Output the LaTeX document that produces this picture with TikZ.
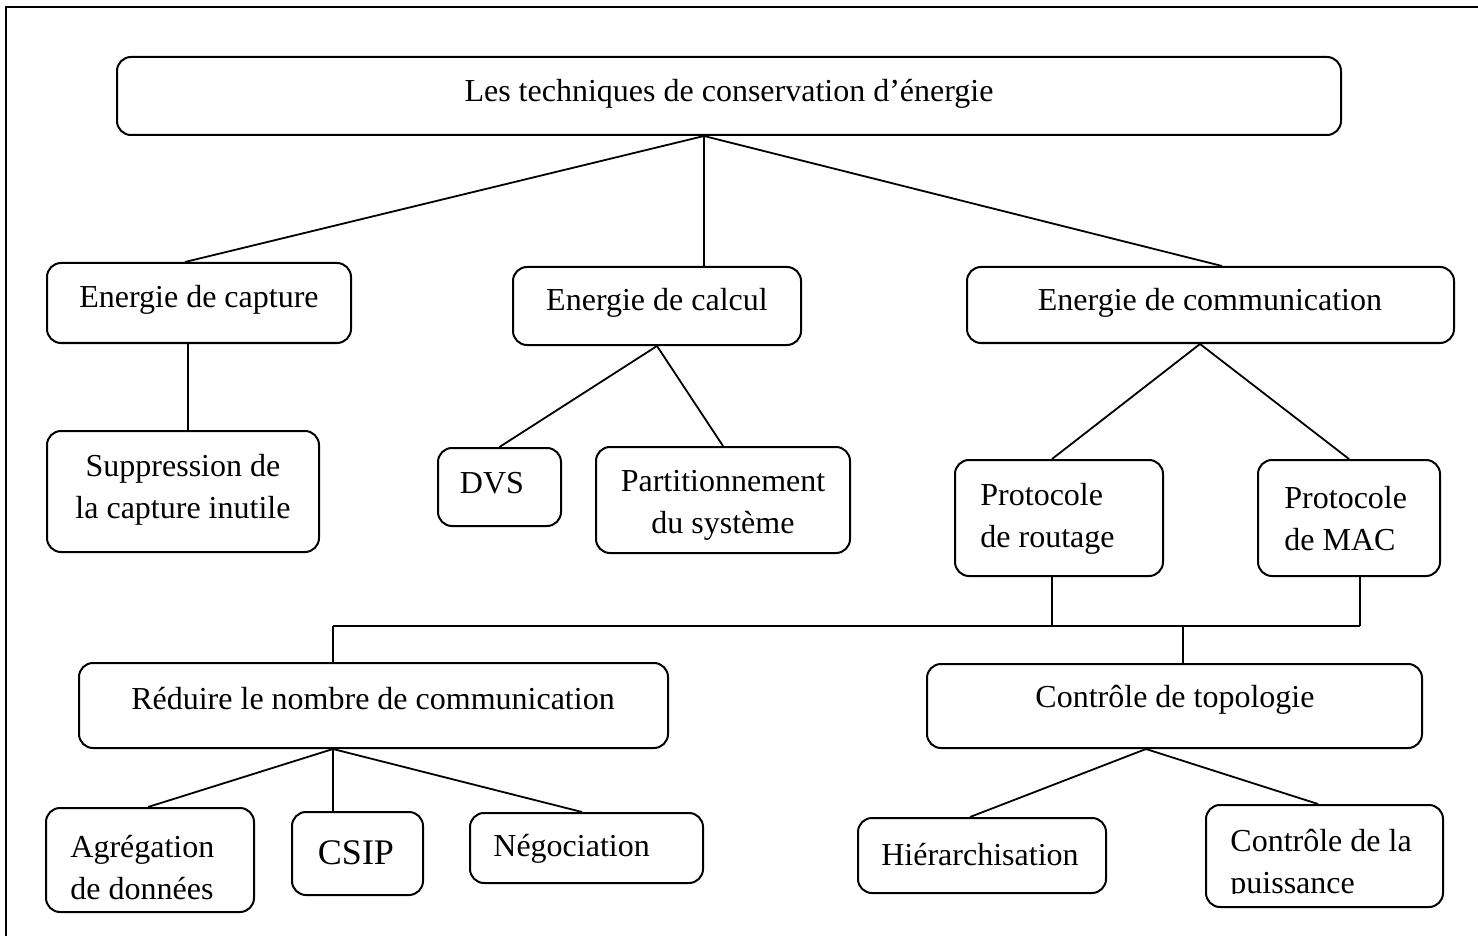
\documentclass[tikz,border=0pt]{standalone}
\usepackage{fontspec}
\setmainfont{Liberation Serif}
\usepackage{tikz}

\begin{document}
\begin{tikzpicture}[x=0.5pt, y=-0.5pt,
    boite/.style={draw, line width=1pt, rounded corners=7pt, inner sep=0pt},
    txt/.style={font=\fontsize{16}{21}\selectfont, inner sep=0pt, yshift=-1.5pt},
    txtg/.style={txt, align=left, anchor=west},
    lien/.style={line width=0.9pt}]
  \useasboundingbox (0,0) rectangle (1478,936);
  % === cadre ===
  \draw[line width=1.2pt] (6,936) -- (6,7) -- (1478,7);
  % === Niveau 1 ===
  \node[boite, minimum width=612pt, minimum height=39pt] (tech) at (729,96) {};
  \node[txt] (tech-t) at (729,91) {Les techniques de conservation d’énergie};
  % === Niveau 2 ===
  \node[boite, minimum width=152pt, minimum height=40pt] (capture) at (199,303) {};
  \node[txt] (capture-t) at (199,297) {Energie de capture};
  \node[boite, minimum width=144pt, minimum height=39pt] (calcul) at (657,306) {};
  \node[txt] (calcul-t) at (657,300) {Energie de calcul};
  \node[boite, minimum width=243.5pt, minimum height=38pt] (comm) at (1210.5,305) {};
  \node[txt] (comm-t) at (1210,300) {Energie de communication};
  % === Niveau 3 ===
  \node[boite, minimum width=136pt, minimum height=60.5pt] (suppr) at (183,491.5) {};
  \node[txt, align=center] (suppr-t) at (183,487) {Suppression de\\la capture inutile};
  \node[boite, minimum width=61.5pt, minimum height=39pt] (dvs) at (499.5,487) {};
  \node[txt] (dvs-t) at (492,480) {DVS};
  \node[boite, minimum width=127pt, minimum height=53pt] (partition) at (723,500) {};
  \node[txt, align=center] (partition-t) at (723,502.5) {Partitionnement\\du système};
  \node[boite, minimum width=104pt, minimum height=58pt] (routage) at (1059,518) {};
  \node[txtg] (routage-t) at (980,516) {Protocole\\de routage};
  \node[boite, minimum width=91pt, minimum height=58pt] (mac) at (1349,518) {};
  \node[txtg] (mac-t) at (1284,516) {Protocole\\de MAC};
  % === Niveau 4 ===
  \node[boite, minimum width=294.5pt, minimum height=42.5pt] (reduire) at (373.5,705.5) {};
  \node[txt] (reduire-t) at (373,696) {Réduire le nombre de communication};
  \node[boite, minimum width=247.5pt, minimum height=42pt] (topo) at (1174.5,706) {};
  \node[txt] (topo-t) at (1175,697) {Contrôle de topologie};
  % === Niveau 5 ===
  \node[boite, minimum width=104pt, minimum height=52pt] (agreg) at (150,860) {};
  \node[txtg] (agreg-t) at (70,865) {Agrégation\\de données};
  \node[boite, minimum width=65.5pt, minimum height=41.5pt] (csip) at (357.5,853.5) {};
  \node[txt, font=\fontsize{18}{22}\selectfont] (csip-t) at (356,850) {CSIP};
  \node[boite, minimum width=116.5pt, minimum height=35pt] (nego) at (586.5,848) {};
  \node[txtg] (nego-t) at (493,846) {Négociation};
  \node[boite, minimum width=124pt, minimum height=37.5pt] (hier) at (982,855.5) {};
  \node[txt] (hier-t) at (980,852) {Hiérarchisation};
  \node[boite, minimum width=118.5pt, minimum height=51pt] (puiss) at (1324.5,856) {};
  \begin{scope}
    \clip (1206,805) rectangle (1443,893);
    \node[txtg] (puiss-t) at (1230,862) {Contrôle de la\\puissance};
  \end{scope}
  % === Liens ===
  \draw[lien] ([xshift=-12.5pt]tech.south) -- ([xshift=-7pt]capture.north);
  \draw[lien] ([xshift=-12.5pt]tech.south) -- ([xshift=-12.5pt]tech.south |- calcul.north);
  \draw[lien] ([xshift=-12.5pt]tech.south) -- ([xshift=5.75pt]comm.north);
  \draw[lien] ([xshift=-5.5pt]capture.south) -- ([xshift=-5.5pt]capture.south |- suppr.north);
  \draw[lien] (calcul.south) -- (dvs.north);
  \draw[lien] (calcul.south) -- (partition.north);
  \draw[lien] ([xshift=-5.25pt]comm.south) -- ([xshift=-3.5pt]routage.north);
  \draw[lien] ([xshift=-5.25pt]comm.south) -- (mac.north);
  % === Bus ===
  \coordinate (busg) at (333,626);
  \coordinate (busd) at ([xshift=5.5pt]mac.south |- busg);
  \draw[lien] ([xshift=-3.5pt]routage.south) -- ([xshift=-3.5pt]routage.south |- busg);
  \draw[lien] ([xshift=5.5pt]mac.south) -- (busd);
  \draw[lien] (busg) -- (busd);
  \draw[lien] (busg) -- (busg |- reduire.north);
  \draw[lien] ([xshift=4.25pt]topo.north |- busg) -- ([xshift=4.25pt]topo.north);
  % === Sous-arbres ===
  \draw[lien] ([xshift=-20.25pt]reduire.south) -- ([xshift=-1pt]agreg.north);
  \draw[lien] ([xshift=-20.25pt]reduire.south) -- ([xshift=-20.25pt]reduire.south |- csip.north);
  \draw[lien] ([xshift=-20.25pt]reduire.south) -- ([xshift=-2.25pt]nego.north);
  \draw[lien] ([xshift=-14.25pt]topo.south) -- ([xshift=-6pt]hier.north);
  \draw[lien] ([xshift=-14.25pt]topo.south) -- ([xshift=-3.25pt]puiss.north);
\end{tikzpicture}
\end{document}
